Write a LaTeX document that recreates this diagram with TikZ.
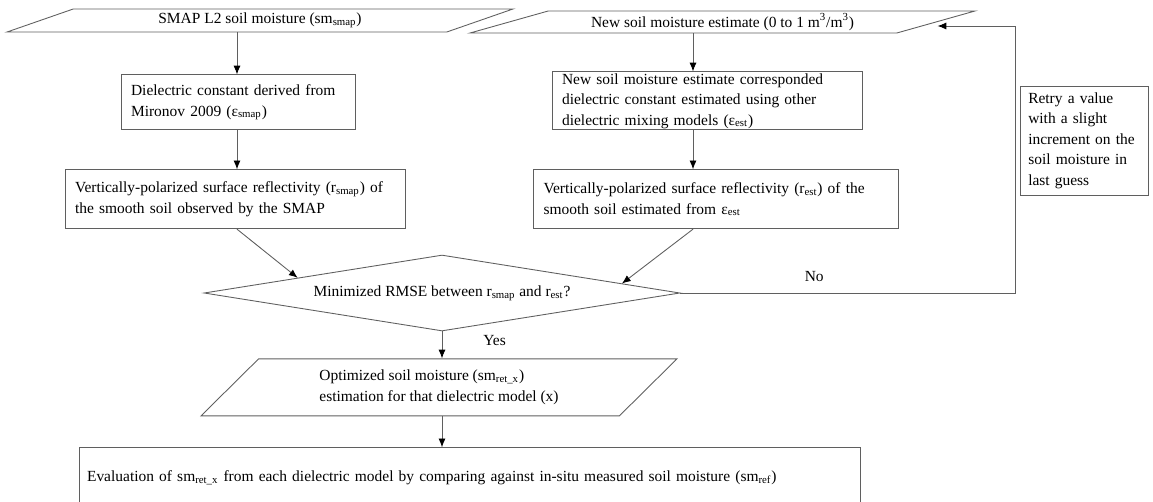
\documentclass[tikz,border=0pt]{standalone}
\usepackage{fontspec}
\setmainfont{Liberation Serif}
\usetikzlibrary{arrows.meta,positioning,shapes.geometric}
\definecolor{edge}{RGB}{95,95,95}

\begin{document}
\begin{tikzpicture}[x=0.02cm,y=-0.02cm,font=\fontsize{8.8}{11.7}\selectfont,
  >={Latex[length=5pt,width=4pt,color=black]},
  b/.style={draw=edge,line width=0.5pt,align=left,inner xsep=0.2cm,inner ysep=0pt},
  io/.style={draw=edge,line width=0.5pt,trapezium,trapezium stretches body,inner ysep=0pt,align=left},
  dec/.style={draw=edge,line width=0.5pt,diamond,aspect=6.3,inner sep=0pt},
  ln/.style={draw=edge,line width=0.5pt}]
\useasboundingbox (0,0) rectangle (1153,501);
\coordinate (lcol) at (237,0);
\coordinate (rcol) at (693,0);
\coordinate (fb) at (1015,26);
% left column: SMAP branch
\node[io,trapezium left angle=12.6,trapezium right angle=167.4,minimum width=10.12cm,minimum height=0.46cm] (smap) at (260,20.5) {SMAP L2 soil moisture (sm\textsubscript{smap})};
\node[b,text width=4.28cm,minimum height=1.1cm,below=0.84cm of smap,xshift=-0.44cm] (dsmap) {Dielectric constant derived from\\Mironov 2009 (ε\textsubscript{smap})};
\node[b,text width=6.4cm,minimum height=1.18cm,below=0.78cm of dsmap,xshift=-0.06cm] (vsmap) {Vertically-polarized surface reflectivity (r\textsubscript{smap}) of\\the smooth soil observed by the SMAP};
% right column: estimate branch
\node[io,trapezium left angle=12.4,trapezium right angle=167.6,minimum width=10.1cm,minimum height=0.44cm] (newsm) at (722.5,22) {New soil moisture estimate (0 to 1 m\textsuperscript{3}/m\textsuperscript{3})};
\node[b,text width=5.8cm,minimum height=1.16cm,below=0.76cm of newsm,xshift=-0.31cm] (dnew) {New soil moisture estimate corresponded\\dielectric constant estimated using other\\dielectric mixing models (ε\textsubscript{est})};
\node[b,text width=6.9cm,minimum height=1.18cm,below=0.78cm of dnew,xshift=0.18cm] (vest) {Vertically-polarized surface reflectivity (r\textsubscript{est}) of the\\smooth soil estimated from ε\textsubscript{est}};
\node[b,text width=2.25cm,inner xsep=0.16cm,minimum height=2.18cm] (retry) at (1084.5,140.5) {Retry a value\\with a slight\\increment on the\\soil moisture in\\last guess};
% decision and result
\node[dec,minimum width=9.52cm,minimum height=1.52cm] (test) at (442,293) {Minimized RMSE between r\textsubscript{smap} and r\textsubscript{est}?};
\node[io,trapezium left angle=31,trapezium right angle=149,minimum width=9.52cm,minimum height=1.14cm,below=0.54cm of test,xshift=-0.06cm] (opt) {Optimized soil moisture (sm\textsubscript{ret\_x})\\estimation for that dielectric model (x)};
\node[b,text width=15.32cm,inner xsep=0.16cm,minimum height=1.2cm,below=0.62cm of opt,xshift=0.62cm] (evalbox) {Evaluation of sm\textsubscript{ret\_x} from each dielectric model by comparing against in-situ measured soil moisture (sm\textsubscript{ref})};
\draw[->,ln] (smap.south -| lcol) -- (dsmap.north -| lcol);
\draw[->,ln] (dsmap.south -| lcol) -- (vsmap.north -| lcol);
\draw[->,ln] (newsm.south -| rcol) -- (dnew.north -| rcol);
\draw[->,ln] (dnew.south -| rcol) -- (vest.north -| rcol);
\draw[->,ln] (vsmap.south -| lcol) -- (test.174);
\draw[->,ln] (vest.south -| rcol) -- (test.3);
\draw[->,ln] (test.south) -- node[right=0.7cm,yshift=0.09cm]{Yes} (test.south |- opt.north);
\draw[->,ln] (test.south |- opt.south) -- (test.south |- evalbox.north);
\draw[->,ln] (test.east) -| node[pos=0.2,above,yshift=0.1cm]{No} (fb) -- (fb -| newsm.east);
\end{tikzpicture}
\end{document}
